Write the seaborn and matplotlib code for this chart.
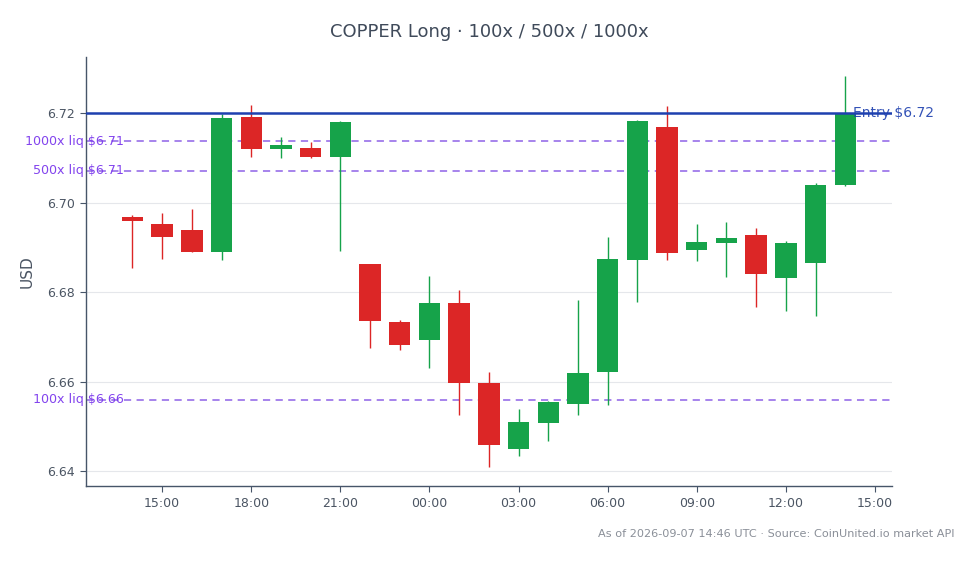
import pandas as pd
import numpy as np
import matplotlib
matplotlib.use("Agg")
import matplotlib.pyplot as plt
import matplotlib.dates as mdates
import matplotlib.transforms as mtransforms
import seaborn as sns

# hourly candles, 2026-09-06 14:00 -> 2026-09-07 14:00 UTC
times = ["2026-09-06 14:00", "2026-09-06 15:00", "2026-09-06 16:00", "2026-09-06 17:00",
         "2026-09-06 18:00", "2026-09-06 19:00", "2026-09-06 20:00", "2026-09-06 21:00",
         "2026-09-06 22:00", "2026-09-06 23:00", "2026-09-07 00:00", "2026-09-07 01:00",
         "2026-09-07 02:00", "2026-09-07 03:00", "2026-09-07 04:00", "2026-09-07 05:00",
         "2026-09-07 06:00", "2026-09-07 07:00", "2026-09-07 08:00", "2026-09-07 09:00",
         "2026-09-07 10:00", "2026-09-07 11:00", "2026-09-07 12:00", "2026-09-07 13:00",
         "2026-09-07 14:00"]
opens = [6.6968, 6.6953, 6.6938, 6.6890, 6.7191, 6.7120, 6.7123, 6.7101, 6.6862, 6.6733,
         6.6693, 6.6777, 6.6597, 6.6450, 6.6508, 6.6551, 6.6622, 6.6872, 6.7169, 6.6894,
         6.6909, 6.6927, 6.6831, 6.6866, 6.7039]
highs = [6.6973, 6.6976, 6.6985, 6.7198, 6.7218, 6.7146, 6.7135, 6.7182, 6.6863, 6.6739,
         6.6836, 6.6804, 6.6621, 6.6539, 6.6556, 6.6782, 6.6924, 6.7184, 6.7217, 6.6953,
         6.6956, 6.6944, 6.6915, 6.7043, 6.7282]
lows = [6.6855, 6.6875, 6.6889, 6.6872, 6.7103, 6.7100, 6.7100, 6.6892, 6.6675, 6.6671,
        6.6631, 6.6525, 6.6410, 6.6435, 6.6468, 6.6526, 6.6548, 6.6778, 6.6873, 6.6869,
        6.6834, 6.6766, 6.6758, 6.6747, 6.7038]
closes = [6.6958, 6.6923, 6.6890, 6.7189, 6.7120, 6.7129, 6.7102, 6.7181, 6.6736, 6.6682,
          6.6777, 6.6597, 6.6459, 6.6511, 6.6554, 6.6619, 6.6875, 6.7183, 6.6888, 6.6913,
          6.6922, 6.6840, 6.6911, 6.7040, 6.7198]

entry_price = 6.72
liq_labels = ["100x", "500x", "1000x"]
liq_prices = [6.6560, 6.7071, 6.7137]

GREEN = "#16a34a"
RED = "#dc2626"
ENTRY_C = "#1e40af"
LIQ_C = "#9f7aea"
LIQ_TXT = "#7c3aed"
TEXT_C = "#4b5563"
SPINE_C = "#475569"

df = pd.DataFrame({"time": pd.to_datetime(times), "open": opens, "high": highs,
                   "low": lows, "close": closes})
df["up"] = df["close"] >= df["open"]
df["color"] = np.where(df["up"], GREEN, RED)

sns.set_theme(style="white")
plt.rcParams["font.family"] = ["DejaVu Sans"]

fig = plt.figure(figsize=(9.78, 5.64), dpi=100)
ax = fig.add_axes([0.0876, 0.1378, 0.8245, 0.7612])

x = mdates.date2num(df["time"])
hour = 1.0 / 24
width = 0.72 * hour

# wicks then bodies
ax.vlines(x, df["low"], df["high"], colors=df["color"], linewidth=1.0, zorder=2)
body_lo = np.minimum(df["open"], df["close"])
body_h = np.abs(df["close"] - df["open"])
ax.bar(x, body_h, bottom=body_lo, width=width, color=df["color"], linewidth=0, zorder=3)

# entry and liquidation levels
ax.axhline(entry_price, color=ENTRY_C, linewidth=1.8, zorder=4)
for lab, p in zip(liq_labels, liq_prices):
    ax.axhline(p, color=LIQ_C, linewidth=1.3, linestyle=(0, (4, 3)), zorder=1)

trans = mtransforms.blended_transform_factory(ax.transAxes, ax.transData)
for lab, p in zip(liq_labels, liq_prices):
    ax.text(0.0475, p, f"{lab} liq ${p:.2f}", transform=trans, ha="right", va="center",
            fontsize=9.1, color=LIQ_TXT, alpha=0.95, zorder=5, clip_on=False)
ax.text(0.952, entry_price, f"Entry ${entry_price:.2f}", transform=trans, ha="left",
        va="center", fontsize=10, color=ENTRY_C, alpha=0.9, zorder=5, clip_on=False)

# limits
pad_x = 1.575 * hour
ax.set_xlim(x[0] - pad_x, x[-1] + pad_x)
yr = max(highs) - min(lows)
ax.set_ylim(min(lows) - 0.05 * yr, max(highs) + 0.05 * yr)

ax.xaxis.set_major_locator(mdates.HourLocator(byhour=range(0, 24, 3)))
ax.xaxis.set_major_formatter(mdates.DateFormatter("%H:%M"))
ax.set_yticks([6.64, 6.66, 6.68, 6.70, 6.72])
ax.yaxis.set_major_formatter(matplotlib.ticker.FormatStrFormatter("%.2f"))

ax.grid(axis="y", color="#e5e7eb", linewidth=0.8, zorder=0)
ax.set_axisbelow(True)
sns.despine(ax=ax)
for s in ["left", "bottom"]:
    ax.spines[s].set_color(SPINE_C)
    ax.spines[s].set_linewidth(1.0)
ax.tick_params(axis="both", which="major", labelsize=9, colors=TEXT_C,
               direction="out", length=4.5, width=0.8, left=True, bottom=True)
ax.tick_params(axis="both", color=SPINE_C)

ax.set_ylabel("USD", fontsize=11, color=TEXT_C, labelpad=9)
ax.set_xlabel("")

fig.text(0.5, 0.943, "COPPER Long · 100x / 500x / 1000x", ha="center", va="center",
         fontsize=13, color="#3f4a5a")
fig.text(0.9755, 0.054, "As of 2026-09-07 14:46 UTC · Source: CoinUnited.io market API",
         ha="right", va="center", fontsize=8.15, color="#8a8f98")

fig.savefig("out.png", dpi=100)
